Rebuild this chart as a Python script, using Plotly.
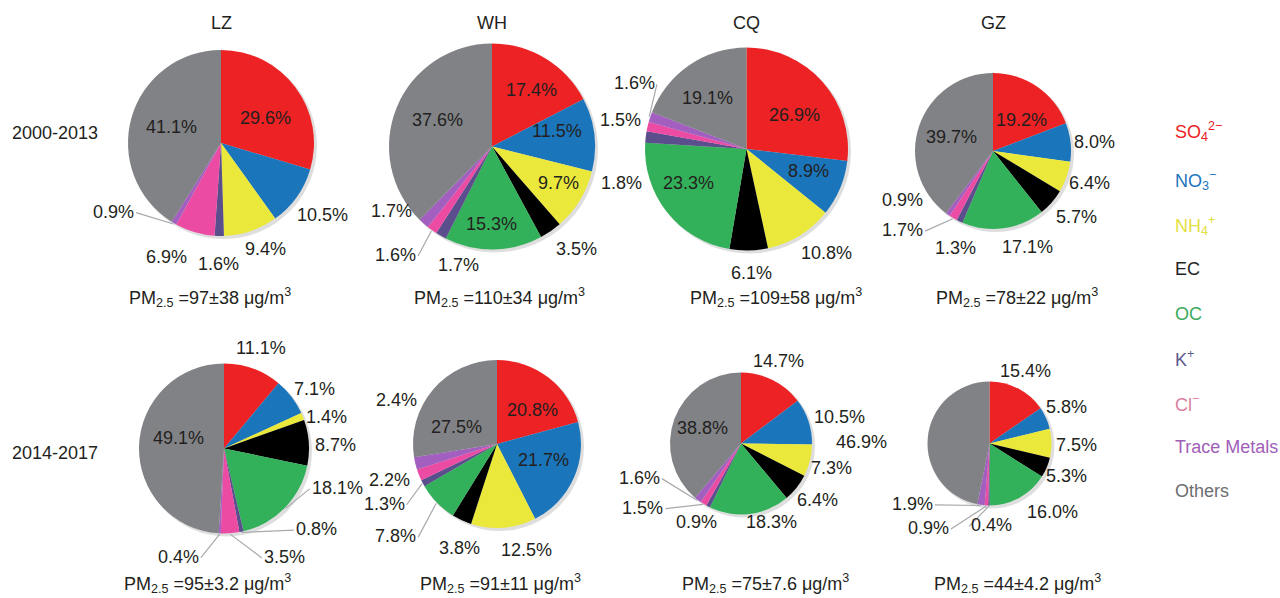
import math
import plotly.graph_objects as go

W, H = 1280, 598

# ---- data -------------------------------------------------------------
components = ["SO4", "NO3", "NH4", "EC", "OC", "K+", "Cl-", "Trace Metals", "Others"]
legend_text = [
    "SO<sub>4</sub><sup>2−</sup>", "NO<sub>3</sub><sup>−</sup>", "NH<sub>4</sub><sup>+</sup>",
    "EC", "OC", "K<sup>+</sup>", "Cl<sup>−</sup>", "Trace Metals", "Others",
]
cities = ["LZ", "WH", "CQ", "GZ"]
periods = ["2000-2013", "2014-2017"]

# percentage contribution of each component to PM2.5
lz_2000 = [29.6, 10.5, 9.4, 0.0, 0.0, 1.6, 6.9, 0.9, 41.1]
wh_2000 = [17.4, 11.5, 9.7, 3.5, 15.3, 1.7, 1.6, 1.7, 37.6]
cq_2000 = [26.9, 8.9, 10.8, 6.1, 23.3, 1.8, 1.5, 1.6, 19.1]
gz_2000 = [19.2, 8.0, 6.4, 5.7, 17.1, 1.3, 1.7, 0.9, 39.7]
lz_2014 = [11.1, 7.1, 1.4, 8.7, 18.1, 0.8, 3.5, 0.4, 49.1]
wh_2014 = [20.8, 21.7, 12.5, 3.8, 7.8, 1.3, 2.2, 2.4, 27.5]
cq_2014 = [14.7, 10.5, 7.3, 6.4, 18.3, 0.9, 1.5, 1.6, 38.8]
gz_2014 = [15.4, 5.8, 7.5, 5.3, 16.0, 0.4, 0.9, 1.9, 46.9]

pm25_mean_2000 = [97, 110, 109, 78]
pm25_sd_2000 = ["38", "34", "58", "22"]
pm25_mean_2014 = [95, 91, 75, 44]
pm25_sd_2014 = ["3.2", "11", "7.6", "4.2"]

values = [[lz_2000, wh_2000, cq_2000, gz_2000], [lz_2014, wh_2014, cq_2014, gz_2014]]
pm_mean = [pm25_mean_2000, pm25_mean_2014]
pm_sd = [pm25_sd_2000, pm25_sd_2014]

# ---- styling / layout -------------------------------------------------
slice_colors = ["#ED2224", "#1B75BB", "#EBE83C", "#000000", "#33B15A",
                "#5A4E8C", "#EC4BA3", "#A35FC0", "#808285"]
legend_colors = ["#ED1C24", "#1C75BC", "#E4E040", "#231F20", "#3AAA5C",
                 "#5A5A8C", "#D9809E", "#A060B8", "#6D6E71"]
TEXT = "#231F20"
FONT = "Liberation Sans, Arial, sans-serif"
FS = 18

# pie centre (px) and radius (px), by [row][column]
pie_geom = [
    [(221, 143, 93), (492, 146.5, 103), (746.5, 149, 101.5), (993, 151, 78)],
    [(224, 448.5, 85), (497, 444, 84), (741, 443.5, 71), (989.5, 443.5, 62)],
]
# label placement per slice: (angle nudge in degrees, distance / radius, leader line)
label_place = [
    [
        [(8, .55, 0), (0, 1.34, 0), (-4, 1.24, 0), None, None, (0, 1.30, 0), (9, 1.36, 0), (27, 1.37, 1), (2, .56, 0)],
        [(4, .67, 0), (-7, .65, 0), (-3, .74, 0), (-5, 1.29, 0), (1, .75, 0), (-14, 1.20, 0), (6, 1.41, 1), (16, 1.16, 0), (4, .59, 0)],
        [(6, .58, 0), (-3, .65, 0), (-6, 1.29, 0), (-1, 1.22, 0), (8, .66, 0), (-22, 1.28, 0), (0, 1.27, 0), (12, 1.28, 1), (-3, .63, 0)],
        [(8, .54, 0), (1.5, 1.31, 0), (-1, 1.31, 0), (-3, 1.37, 0), (-12, 1.31, 0), (-4, 1.33, 0), (18, 1.54, 1), (26, 1.32, 0), (0, .56, 0)],
    ],
    [
        [(0, 1.26, 0), (4, 1.28, 0), (5, 1.26, 0), (2, 1.31, 0), (-25, 1.41, 1), (-37, 1.44, 1), (-25, 1.46, 1), (20, 1.38, 1), (11, .55, 0)],
        [(9, .59, 0), (-5, .58, 0), (-11, 1.31, 0), (-5, 1.31, 0), (2, 1.63, 1), (0, 1.52, 1), (3, 1.35, 0), (37, 1.31, 0), (-17, .52, 0)],
        [(-2, 1.27, 0), (3, 1.44, 0), (1, 1.32, 0), (-2, 1.34, 0), (-14, 1.18, 0), (2, 1.27, 0), (25, 1.65, 1), (34, 1.51, 1), (2, .58, 0)],
        [(-1, 1.31, 0), (-1, 1.37, 0), (1, 1.40, 0), (0, 1.34, 0), (-14, 1.50, 0), (-2, 1.32, 1), (33, 1.68, 1), (44, 1.58, 1), (-5, 2.06, 0)],
    ],
]
title_y = 23
period_label_pos = [(55, 133), (55, 453)]
pm_label_pos = [
    [(210, 297), (499, 297), (776, 297), (1017, 297)],
    [(207, 583), (500, 583), (765, 583), (1017, 583)],
]
legend_x = 1173
legend_y = [132, 180, 225, 269, 314, 358, 403, 447, 491]


def px(x):
    return x / W


def py(y):
    return 1 - y / H


def text_half_width(s, size=FS):
    w = 0
    for ch in s:
        w += 0.278 if ch == "." else (0.889 if ch == "%" else 0.556)
    return w * size / 2


fig = go.Figure()
annotations = []
shapes = []

for row in range(2):
    for col in range(4):
        vals = values[row][col]
        cx, cy, r = pie_geom[row][col]

        # soft drop shadow under each pie
        shapes.append(dict(type="circle", xref="paper", yref="paper", layer="below",
                           x0=px(cx - r + 2), x1=px(cx + r + 3), y0=py(cy + r + 3), y1=py(cy - r + 2),
                           fillcolor="rgba(0,0,0,0.13)", line=dict(width=0)))

        fig.add_trace(go.Pie(
            values=vals, labels=components, sort=False, direction="clockwise", rotation=0,
            marker=dict(colors=slice_colors, line=dict(width=0)),
            textinfo="none", hoverinfo="label+percent", showlegend=False,
            domain=dict(x=[px(cx - r), px(cx + r)], y=[py(cy + r), py(cy - r)]),
        ))

        total = sum(vals)
        cum = 0.0
        for k, v in enumerate(vals):
            start = cum
            cum += v
            place = label_place[row][col][k]
            if v <= 0 or place is None:
                continue
            mid = (start + v / 2) / total * 360
            dth, rf, leader = place
            th = math.radians(mid + dth)
            lx = cx + rf * r * math.sin(th)
            ly = cy - rf * r * math.cos(th)
            label = f"{v:.1f}%"
            annotations.append(dict(x=px(lx), y=py(ly), xref="paper", yref="paper", text=label,
                                    showarrow=False, xanchor="center", yanchor="middle",
                                    font=dict(size=FS, color=TEXT, family=FONT)))
            if leader:
                tm = math.radians(mid)
                ex = cx + 1.01 * r * math.sin(tm)
                ey = cy - 1.01 * r * math.cos(tm)
                hw = text_half_width(label) + 2
                tx = lx + hw if lx < ex else lx - hw
                shapes.append(dict(type="line", xref="paper", yref="paper",
                                   x0=px(ex), y0=py(ey), x1=px(tx), y1=py(ly + 1),
                                   line=dict(color="#A7A9AC", width=1.2)))

        # PM2.5 caption
        pxl, pyl = pm_label_pos[row][col]
        annotations.append(dict(
            x=px(pxl), y=py(pyl), xref="paper", yref="paper", showarrow=False,
            text=f"PM<sub>2.5</sub> ={pm_mean[row][col]}±{pm_sd[row][col]} μg/m<sup>3</sup>",
            font=dict(size=FS, color=TEXT, family=FONT), xanchor="center", yanchor="middle"))

# city titles
for col, city in enumerate(cities):
    annotations.append(dict(x=px(pie_geom[0][col][0]), y=py(title_y), xref="paper", yref="paper",
                            text=city, showarrow=False, xanchor="center", yanchor="middle",
                            font=dict(size=FS, color=TEXT, family=FONT)))

# period labels
for (x, y), p in zip(period_label_pos, periods):
    annotations.append(dict(x=px(x), y=py(y), xref="paper", yref="paper", text=p,
                            showarrow=False, xanchor="center", yanchor="middle",
                            font=dict(size=FS, color=TEXT, family=FONT)))

# legend as coloured text
for txt, col, y in zip(legend_text, legend_colors, legend_y):
    annotations.append(dict(x=px(legend_x), y=py(y), xref="paper", yref="paper", text=txt,
                            showarrow=False, xanchor="left", yanchor="middle",
                            font=dict(size=FS, color=col, family=FONT)))

fig.update_layout(
    width=W, height=H, margin=dict(l=0, r=0, t=0, b=0),
    paper_bgcolor="white", plot_bgcolor="white",
    annotations=annotations, shapes=shapes,
)

fig.write_html("out.html")
